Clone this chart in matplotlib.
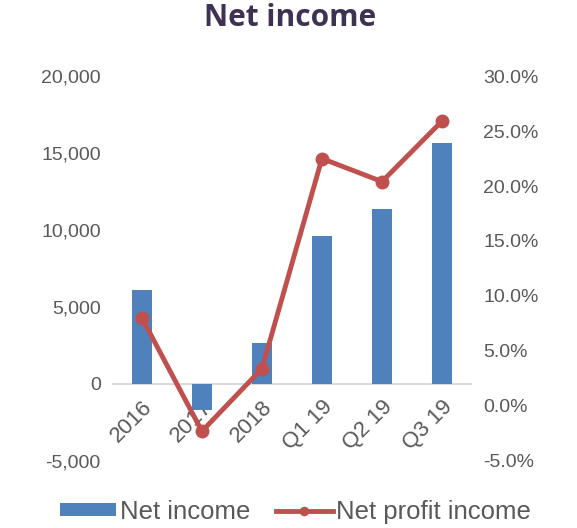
import numpy as np
import matplotlib.pyplot as plt
from matplotlib.ticker import FuncFormatter

categories = ["2016", "2017", "2018", "Q1 19", "Q2 19", "Q3 19"]
net_income = [6100, -1700, 2650, 9600, 11350, 15650]
net_profit_pct = [8.0, -2.3, 3.4, 22.5, 20.4, 25.9]

plt.rcParams['font.family'] = ['Liberation Sans', 'DejaVu Sans']
txt_color = '#595959'

fig = plt.figure(figsize=(5.77, 5.28), dpi=100)
ax = fig.add_axes([0.194, 0.127, 0.624, 0.729])
x = np.arange(len(categories))

bars = ax.bar(x, net_income, width=0.33, color='#4F81BD', zorder=2, label='Net income')
ax.axhline(0, color='#D9D9D9', lw=1.5, zorder=1)
ax.set_ylim(-5000, 20000)
ax.set_yticks(np.arange(-5000, 20001, 5000))
ax.yaxis.set_major_formatter(FuncFormatter(lambda v, p: f"{v:,.0f}"))
ax.set_xlim(-0.5, 5.5)
# category labels sit on the zero line, like in the Excel original
ax.spines['bottom'].set_position(('data', 0))

ax2 = ax.twinx()
line, = ax2.plot(x, net_profit_pct, color='#C0504D', lw=3.5, marker='o', ms=9,
                 zorder=3, label='Net profit income')
ax2.set_ylim(-5, 30)
ax2.set_yticks(np.arange(-5, 31, 5))
ax2.yaxis.set_major_formatter(FuncFormatter(lambda v, p: f"{v:.1f}%"))

for a in (ax, ax2):
    for s in a.spines.values():
        s.set_visible(False)
    a.tick_params(length=0, labelsize=14, colors=txt_color, pad=8)
ax.tick_params(axis='x', pad=9, labelsize=16)
ax.set_xticks(x)
ax.set_xticklabels(categories, rotation=45, ha='right', rotation_mode='anchor')

fig.text(0.503, 0.965, "Net income", ha='center', va='center', fontsize=21.5,
         fontweight='bold', color='#3F3151', family=['Open Sans', 'DejaVu Sans'])

fig.legend([bars, line], ['Net income', 'Net profit income'], loc='lower center',
           bbox_to_anchor=(0.512, -0.036), ncol=2, frameon=False, fontsize=18.5,
           labelcolor=txt_color, handlelength=2.2, handleheight=0.4,
           handletextpad=0.15, columnspacing=1.0, markerscale=0.65)

fig.savefig("out.png", dpi=100)
